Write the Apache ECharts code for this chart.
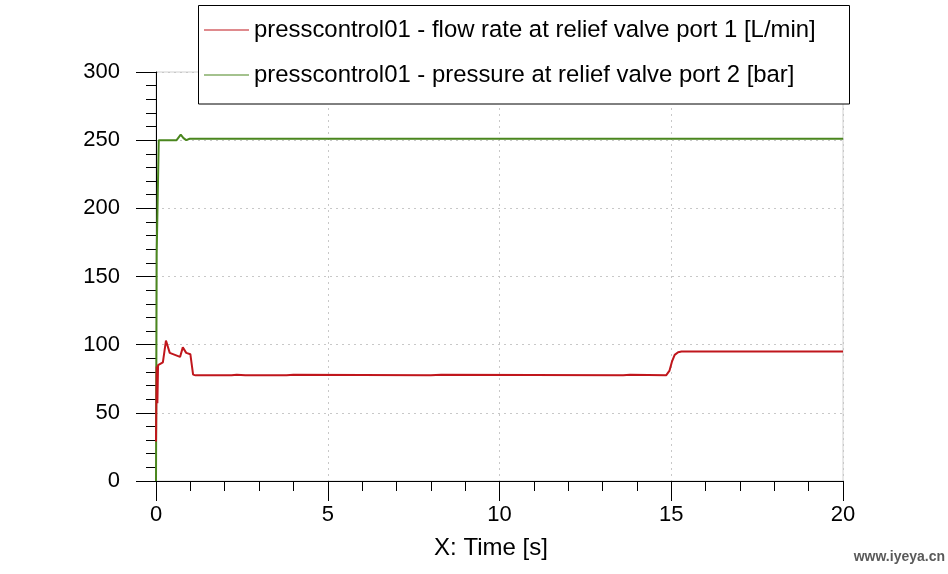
<!DOCTYPE html>
<html>
<head>
<meta charset="utf-8">
<script src="https://cdn.jsdelivr.net/npm/echarts@6/dist/echarts.min.js"></script>
<style>
html,body{margin:0;padding:0;background:#fff;}
#chart{width:948px;height:574px;}
</style>
</head>
<body>
<div id="chart"></div>
<script>
// ---- data (time [s], value) ----
var flowName = 'presscontrol01 - flow rate at relief valve port 1 [L/min]';
var pressName = 'presscontrol01 - pressure at relief valve port 2 [bar]';

var flowTime = [0, 0.02, 0.04, 0.06, 0.2, 0.29, 0.4, 0.55, 0.7, 0.78, 0.88, 1.0, 1.08, 1.15, 2.2, 2.35, 2.6, 3.8, 4.0, 8.0, 8.3, 13.6, 13.8, 14.85, 14.95, 15.02, 15.1, 15.2, 15.3, 20];
var flowValue = [29, 84, 57, 85, 87, 103, 94, 92.5, 91, 98, 94, 93, 78, 77.5, 77.5, 78, 77.5, 77.5, 78, 77.5, 78, 77.5, 78, 77.5, 81, 87.5, 92.5, 94.5, 95, 95];

var pressTime = [0, 0.02, 0.05, 0.08, 0.6, 0.72, 0.8, 0.88, 0.98, 20];
var pressValue = [0, 167, 168, 250, 250, 254, 251.5, 250, 251, 251];

var xTicks = [0, 5, 10, 15, 20];
var yTicks = [0, 50, 100, 150, 200, 250, 300];

function pairs(t, v) { return t.map(function (x, i) { return [x, v[i]]; }); }

var FONT = 'Liberation Sans, Arial, Helvetica, sans-serif';
var chart = echarts.init(document.getElementById('chart'));

chart.setOption({
  animation: false,
  backgroundColor: '#ffffff',
  grid: {
    left: 156, right: 105, top: 72, bottom: 93,
    show: true, borderColor: '#d0d0d0', borderWidth: 1, backgroundColor: 'transparent'
  },
  xAxis: {
    type: 'value',
    min: xTicks[0], max: xTicks[xTicks.length - 1], interval: 5,
    name: 'X: Time [s]',
    nameLocation: 'middle',
    nameGap: 55,
    nameTextStyle: { fontFamily: FONT, fontSize: 24, color: '#000', padding: [0, 17, 0, 0] },
    axisLine: { show: true, onZero: false, lineStyle: { color: '#000', width: 1 } },
    axisTick: { show: true, inside: false, length: 20, lineStyle: { color: '#000' } },
    minorTick: { show: true, splitNumber: 5, length: 10, lineStyle: { color: '#000' } },
    axisLabel: { fontFamily: FONT, fontSize: 22, color: '#000', margin: 23 },
    splitLine: { show: true, lineStyle: { color: '#c8c8c8', type: [2, 4] } }
  },
  yAxis: {
    type: 'value',
    min: yTicks[0], max: yTicks[yTicks.length - 1], interval: 50,
    axisLine: { show: true, onZero: false, lineStyle: { color: '#000', width: 1 } },
    axisTick: { show: true, inside: false, length: 20, lineStyle: { color: '#000' } },
    minorTick: { show: true, splitNumber: 5, length: 10, lineStyle: { color: '#000' } },
    axisLabel: { fontFamily: FONT, fontSize: 22, color: '#000', margin: 36 },
    splitLine: { show: true, lineStyle: { color: '#c8c8c8', type: [2, 4] } }
  },
  legend: {
    zlevel: 2,
    z: 20,
    orient: 'vertical',
    left: 198, top: 5,
    padding: [13, 0, 0, 6],
    icon: 'rect',
    itemWidth: 45, itemHeight: 1, itemGap: 21,
    data: [flowName, pressName],
    textStyle: { fontFamily: FONT, fontSize: 23.9, color: '#000', lineHeight: 20 }
  },
  graphic: [
    {
      type: 'rect', zlevel: 1, z: 10,
      shape: { x: 198.5, y: 5.5, width: 651, height: 98.5 },
      style: { fill: '#ffffff', stroke: '#000000', lineWidth: 1 }
    },
    {
      type: 'text', z: 10,
      x: 945, y: 557,
      style: {
        text: 'www.iyeya.cn', fill: '#5a5a5a',
        font: 'bold 14px ' + FONT, textAlign: 'right', textVerticalAlign: 'middle'
      }
    }
  ],
  series: [
    {
      name: pressName, type: 'line', symbol: 'none', showSymbol: false,
      data: pairs(pressTime, pressValue),
      itemStyle: { color: '#4a861e' },
      lineStyle: { color: '#4a861e', width: 2 }
    },
    {
      name: flowName, type: 'line', symbol: 'none', showSymbol: false,
      data: pairs(flowTime, flowValue),
      itemStyle: { color: '#c0161c' },
      lineStyle: { color: '#c0161c', width: 2 }
    }
  ]
});
</script>
</body>
</html>
